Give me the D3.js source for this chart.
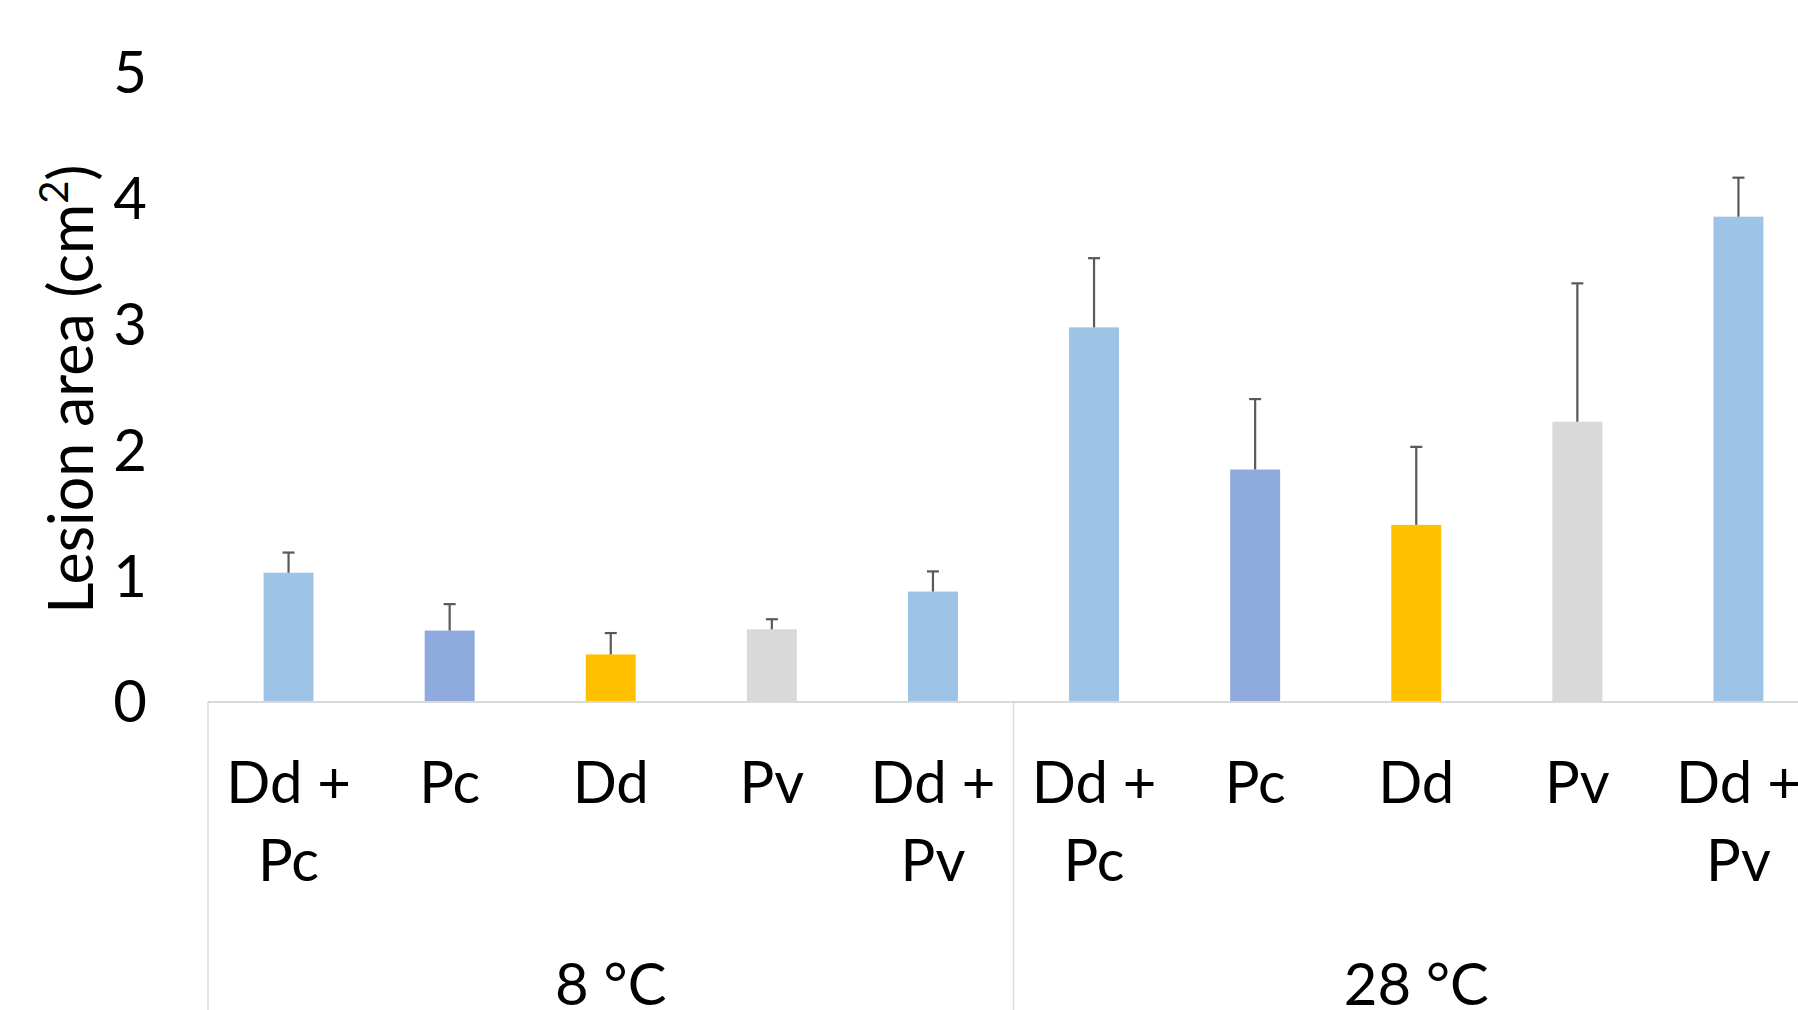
<!DOCTYPE html>
<html>
<head>
<meta charset="utf-8">
<script src="https://cdn.jsdelivr.net/npm/d3@7"></script>
<style>
  html, body { margin: 0; padding: 0; background: #fff; overflow: hidden; }
  text { font-family: Lato, "Open Sans", sans-serif; fill: #000; }
</style>
</head>
<body>
<svg id="chart" width="1798" height="1010"></svg>
<script>
// ---- data ----
const groups = ["8 °C", "28 °C"];
const treatments = [["Dd +", "Pc"], ["Pc"], ["Dd"], ["Pv"], ["Dd +", "Pv"]];
const treatmentColors = ["#9DC3E6", "#8FAADC", "#FFC000", "#D9D9D9", "#9DC3E6"];
const values8 = [1.02, 0.56, 0.37, 0.57, 0.87];
const errors8 = [0.16, 0.21, 0.17, 0.08, 0.16];
const values28 = [2.97, 1.84, 1.40, 2.22, 3.85];
const errors28 = [0.55, 0.56, 0.62, 1.10, 0.31];
const yTicks = [0, 1, 2, 3, 4, 5];
const yTitle = "Lesion area (cm";
const yTitleSup = "2";

// ---- build table ----
const rows = [];
[values8, values28].forEach((vals, gi) => {
  const errs = gi === 0 ? errors8 : errors28;
  vals.forEach((v, i) => rows.push({
    id: gi + "-" + i, group: groups[gi], label: treatments[i],
    color: treatmentColors[i], value: v, err: errs[i]
  }));
});

const svg = d3.select("#chart");
const left = 208, baseY = 701, topY = 72, bottom = 1010;
const step = 161.1;

const x = d3.scaleBand()
  .domain(rows.map(d => d.id))
  .range([left, left + step * rows.length])
  .paddingInner(0.69).paddingOuter(0.345);
const y = d3.scaleLinear().domain([0, 5]).range([baseY, topY]);

const gridColor = "#D9D9D9";

// y tick labels
const yAxis = d3.axisLeft(y).tickValues(yTicks).tickSize(0).tickPadding(0).tickFormat(d3.format("d"));
const ya = svg.append("g").attr("transform", `translate(147,0)`).call(yAxis);
ya.select(".domain").remove();
ya.selectAll("text").attr("font-size", 58).attr("font-family", "Lato, 'Open Sans', sans-serif").attr("fill", "#000").attr("dy", "0.36em");

// y title
const yt = svg.append("text")
  .attr("transform", `translate(93,${(163 + 615) / 2}) rotate(-90)`)
  .attr("text-anchor", "middle")
  .attr("font-size", 61);
yt.append("tspan").text(yTitle);
yt.append("tspan").text(yTitleSup).attr("font-size", 40).attr("dy", -25);
yt.append("tspan").text(")").attr("dy", 25);

// bars
svg.append("g").selectAll("rect").data(rows).join("rect")
  .attr("x", d => x(d.id))
  .attr("width", x.bandwidth())
  .attr("y", d => y(d.value))
  .attr("height", d => y(0) - y(d.value))
  .attr("fill", d => d.color);

// error bars
const eb = svg.append("g").attr("stroke", "#595959").attr("stroke-width", 2.2);
eb.selectAll("line.stem").data(rows).join("line").attr("class", "stem")
  .attr("x1", d => x(d.id) + x.bandwidth() / 2)
  .attr("x2", d => x(d.id) + x.bandwidth() / 2)
  .attr("y1", d => y(d.value))
  .attr("y2", d => y(d.value + d.err));
eb.selectAll("line.cap").data(rows).join("line").attr("class", "cap")
  .attr("x1", d => x(d.id) + x.bandwidth() / 2 - 6)
  .attr("x2", d => x(d.id) + x.bandwidth() / 2 + 6)
  .attr("y1", d => y(d.value + d.err))
  .attr("y2", d => y(d.value + d.err));

// horizontal axis line
svg.append("line")
  .attr("x1", left).attr("x2", 1798)
  .attr("y1", baseY + 1).attr("y2", baseY + 1)
  .attr("stroke", gridColor).attr("stroke-width", 2);

// group dividers
const groupStarts = groups.map((g, gi) => x(rows[gi * treatments.length].id) - (x.step() - x.bandwidth()) / 2);
svg.append("g").selectAll("line").data(groupStarts).join("line")
  .attr("x1", d => d).attr("x2", d => d)
  .attr("y1", baseY + 1).attr("y2", bottom)
  .attr("stroke", gridColor).attr("stroke-width", 1.5);

// category labels
const cl = svg.append("g").selectAll("text").data(rows).join("text")
  .attr("text-anchor", "middle")
  .attr("font-size", 58)
  .attr("x", d => x(d.id) + x.bandwidth() / 2)
  .attr("y", 803);
cl.selectAll("tspan").data(d => d.label.map(l => ({ l, cx: x(d.id) + x.bandwidth() / 2 }))).join("tspan")
  .attr("x", t => t.cx)
  .attr("dy", (t, i) => i === 0 ? 0 : 78)
  .text(t => t.l);

// group labels
svg.append("g").selectAll("text").data(groups).join("text")
  .attr("text-anchor", "middle")
  .attr("font-size", 58)
  .attr("x", (g, gi) => groupStarts[gi] + x.step() * treatments.length / 2)
  .attr("y", 1005)
  .text(g => g);
</script>
</body>
</html>
